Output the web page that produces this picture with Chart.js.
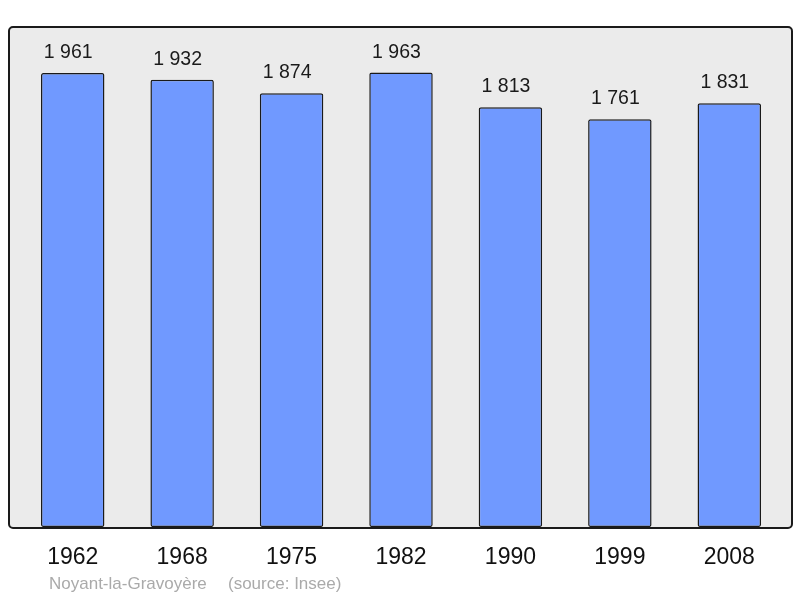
<!DOCTYPE html>
<html>
<head>
<meta charset="utf-8">
<script src="https://cdn.jsdelivr.net/npm/chart.js@4/dist/chart.umd.min.js"></script>
<style>
  html, body { margin: 0; padding: 0; background: #fff; }
  #wrap { width: 800px; height: 598px; }
</style>
</head>
<body>
<div id="wrap"><canvas id="popChart" width="800" height="598"></canvas></div>
<script>
const years = ["1962", "1968", "1975", "1982", "1990", "1999", "2008"];
const population = [1961, 1932, 1874, 1963, 1813, 1761, 1831];
const yMax = 2160;
const footerName = "Noyant-la-Gravoyère";
const footerSource = "(source: Insee)";

const FONT = "'Liberation Sans', Arial, sans-serif";

// grey frame behind the bars
const framePlugin = {
  id: "frame",
  beforeDraw(chart) {
    const ctx = chart.ctx;
    ctx.save();
    ctx.fillStyle = "#ffffff";
    ctx.fillRect(0, 0, chart.width, chart.height);
    ctx.beginPath();
    ctx.roundRect(9, 27, 783, 501, 4);
    ctx.fillStyle = "#ebebeb";
    ctx.fill();
    ctx.restore();
  },
  afterDatasetsDraw(chart) {
    const ctx = chart.ctx;
    ctx.save();
    ctx.beginPath();
    ctx.roundRect(9, 27, 783, 501, 4);
    ctx.lineWidth = 2;
    ctx.strokeStyle = "#1a1a1a";
    ctx.stroke();

    // values above bars
    const meta = chart.getDatasetMeta(0);
    ctx.font = "19.5px " + FONT;
    ctx.fillStyle = "#1a1a1a";
    ctx.textAlign = "center";
    ctx.textBaseline = "alphabetic";
    meta.data.forEach((bar, i) => {
      const v = population[i];
      const txt = v >= 1000 ? Math.floor(v / 1000) + " " + String(v % 1000).padStart(3, "0") : String(v);
      ctx.fillText(txt, bar.x - 4.5, bar.y - 15);
    });

    // footer
    ctx.font = "17px " + FONT;
    ctx.fillStyle = "#aaaaaa";
    ctx.textAlign = "left";
    ctx.fillText(footerName, 49, 589);
    ctx.fillText(footerSource, 228, 589);
    ctx.restore();
  }
};

new Chart(document.getElementById("popChart").getContext("2d"), {
  type: "bar",
  data: {
    labels: years,
    datasets: [{
      data: population,
      backgroundColor: "#7099ff",
      borderColor: "#1a1a1a",
      borderWidth: 1.5,
      borderRadius: 2,
      borderSkipped: false,
      categoryPercentage: 1,
      barPercentage: 0.58,
    }],
  },
  options: {
    responsive: false,
    animation: false,
    layout: { padding: { left: 18, right: 16, top: 27, bottom: 30 } },
    plugins: {
      legend: { display: false },
      tooltip: { enabled: false },
    },
    scales: {
      x: {
        grid: { display: false, drawTicks: false },
        border: { display: false },
        ticks: {
          color: "#111111",
          font: { family: FONT, size: 23 },
          padding: 17,
          maxRotation: 0,
        },
        afterFit(scale) { scale.height = 41; },
      },
      y: {
        display: false,
        min: 0,
        max: yMax,
      },
    },
  },
  plugins: [framePlugin],
});
</script>
</body>
</html>
